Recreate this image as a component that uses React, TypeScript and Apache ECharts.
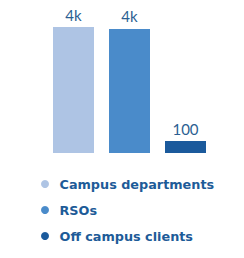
import React, { useEffect, useRef } from "react";
import * as echarts from "echarts";

const categories = ["Campus departments", "RSOs", "Off campus clients"];
const values = [4000, 3940, 100];
const colors = ["#aec4e4", "#4a8bca", "#1b5a9c"];

export default function App() {
  const ref = useRef<HTMLDivElement>(null);
  useEffect(() => {
    const chart = echarts.init(ref.current!, null, { renderer: "svg" });
    const series = categories.map((name, i) => ({
      name,
      type: "bar",
      stack: "all",
      barWidth: 41,
      barMinHeight: 12,
      itemStyle: { color: colors[i] },
      label: {
        show: true,
        position: "top",
        distance: 5,
        color: "#2c5f92",
        fontSize: 15,
        fontFamily: "Lato",
        formatter: (p: any) =>
          p.value >= 1000 ? Math.round(p.value / 1000) + "k" : String(p.value),
      },
      data: categories.map((_, j) => (j === i ? values[i] : "-")),
    }));
    chart.setOption({
      animation: false,
      grid: { left: 45.5, right: 30.5, top: 27, bottom: 105 },
      xAxis: {
        type: "category",
        data: categories,
        show: false,
      },
      yAxis: { type: "value", min: 0, max: 4000, show: false },
      legend: {
        orient: "vertical",
        left: 36,
        top: 171,
        icon: "circle",
        itemWidth: 19,
        itemHeight: 8,
        itemGap: 10,
        selectedMode: false,
        textStyle: {
          color: "#1d5b98",
          fontWeight: "bold",
          fontSize: 12.8,
          lineHeight: 16,
          fontFamily: "DejaVu Sans",
        },
      },
      series,
    });
    return () => chart.dispose();
  }, []);
  return (
    <div
      ref={ref}
      style={{ position: "absolute", left: 0, top: 0, width: 244, height: 258 }}
    />
  );
}
